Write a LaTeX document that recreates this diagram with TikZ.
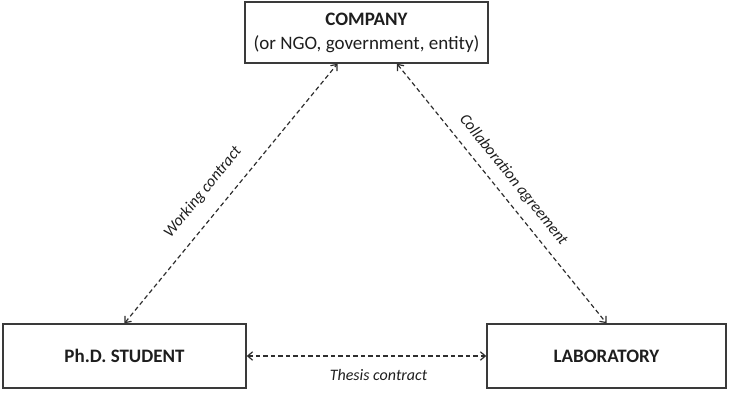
\documentclass[tikz,border=0pt]{standalone}
\usepackage{fontspec}
\setmainfont{Carlito}
\usetikzlibrary{arrows.meta}
\definecolor{boxline}{HTML}{3A3A3A}
\definecolor{txt}{HTML}{1E1E1E}
\definecolor{conncol}{HTML}{2E2E2E}
\begin{document}
\begin{tikzpicture}[x=1pt,y=1pt,
  entity/.style={draw=boxline, line width=1.5pt, fill=white, text=txt,
    inner sep=0pt, align=center, font=\fontsize{19}{24}\selectfont},
  conn/.style={draw=conncol, line width=1.2pt, dash pattern=on 4.5pt off 3pt,
    {Straight Barb[length=5pt,width=8.5pt]}-{Straight Barb[length=5pt,width=8.5pt]}},
  lbl/.style={text=txt, inner sep=0pt, font=\fontsize{16}{19}\selectfont\itshape}]
\useasboundingbox (0,0) rectangle (729,-392);
\node[entity, minimum width=243pt, minimum height=61pt] (company) at (366.5,-32.5)
  {\textbf{COMPANY}\\(or NGO, government, entity)};
\node[entity, minimum width=243pt, minimum height=64pt] (student) at (124.5,-356)
  {\textbf{Ph.D. STUDENT}};
\node[entity, minimum width=239pt, minimum height=64pt] (lab) at (606.5,-356)
  {\textbf{LABORATORY}};
\draw[conn] (student.north) -- ([xshift=-29pt]company.south)
  node[lbl, sloped, above=15pt, pos=0.45] (wc) {Working contract};
\draw[conn] ([xshift=30.5pt]company.south) -- (lab.north)
  node[lbl, sloped, above=10pt, pos=0.49] (ca) {Collaboration agreement};
\draw[conn] (student.east) -- (lab.west)
  node[lbl, below=13pt, pos=0.55] (tc) {Thesis contract};
\end{tikzpicture}
\end{document}
